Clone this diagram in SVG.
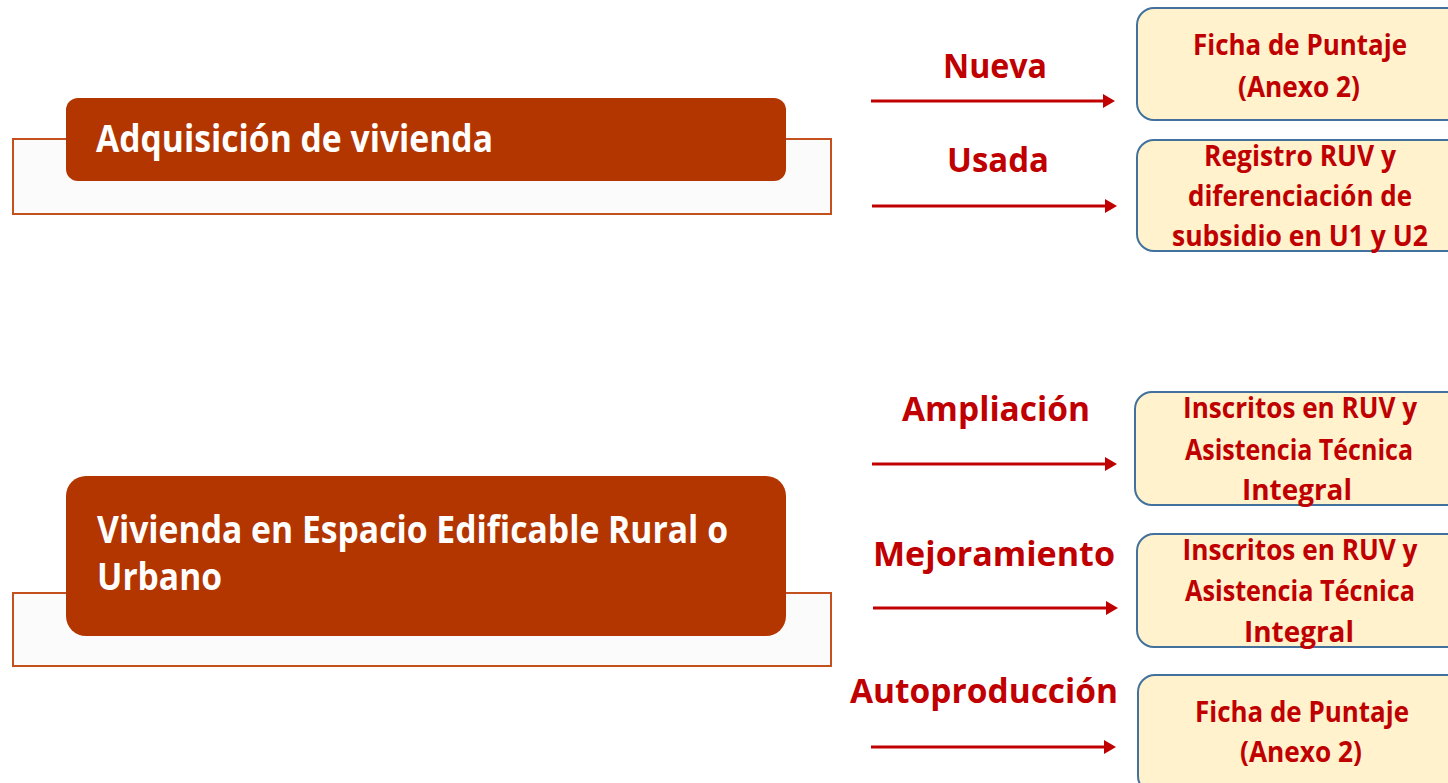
<svg xmlns="http://www.w3.org/2000/svg" width="1448" height="783" viewBox="0 0 1448 783">
  <style>
    .outer { fill: #FBFBFB; stroke: #C4501E; stroke-width: 2; }
    .main { fill: #B33500; }
    .mainText { font-family: "Open Sans", "Noto Sans", sans-serif; font-weight: bold; font-size: 38px; fill: #FFFFFF; }
    .lbl { font-family: "Open Sans", "Noto Sans", sans-serif; font-weight: bold; font-size: 34px; fill: #C00000; text-anchor: middle; }
    .box { fill: #FFF2CC; stroke: #41719C; stroke-width: 2; }
    .boxText { font-family: "Open Sans", "Noto Sans", sans-serif; font-weight: bold; font-size: 29px; fill: #C00000; text-anchor: middle; }
    .conn { stroke: #C00000; stroke-width: 3; fill: none; }
  </style>
  <defs>
    <marker id="arrow" viewBox="0 0 12 14" refX="0" refY="7" markerWidth="12" markerHeight="14" markerUnits="userSpaceOnUse" orient="auto">
      <path d="M0,0 L12,7 L0,14 z" fill="#C00000"/>
    </marker>
  </defs>
  <rect width="1448" height="783" fill="#FFFFFF"/>

  <g id="node-adquisicion">
    <rect class="outer" x="13" y="139" width="818" height="75"/>
    <rect class="main" x="66" y="98" width="720" height="83" rx="12"/>
    <text class="mainText" x="96" y="152" textLength="397" lengthAdjust="spacingAndGlyphs">Adquisición de vivienda</text>
  </g>

  <g id="node-vivienda-espacio">
    <rect class="outer" x="13" y="593" width="818" height="73"/>
    <rect class="main" x="66" y="476" width="720" height="160" rx="20"/>
    <text class="mainText" x="97" y="543" textLength="631" lengthAdjust="spacingAndGlyphs">Vivienda en Espacio Edificable Rural o</text>
    <text class="mainText" x="97" y="590" textLength="125" lengthAdjust="spacingAndGlyphs">Urbano</text>
  </g>

  <g id="connectors">
    <line class="conn" x1="871" y1="101" x2="1103" y2="101" marker-end="url(#arrow)"/>
    <line class="conn" x1="872" y1="206" x2="1105" y2="206" marker-end="url(#arrow)"/>
    <line class="conn" x1="872" y1="464" x2="1105" y2="464" marker-end="url(#arrow)"/>
    <line class="conn" x1="873" y1="608" x2="1106" y2="608" marker-end="url(#arrow)"/>
    <line class="conn" x1="871" y1="747" x2="1104" y2="747" marker-end="url(#arrow)"/>
  </g>

  <g id="labels">
    <text class="lbl" x="995" y="78" textLength="104" lengthAdjust="spacingAndGlyphs">Nueva</text>
    <text class="lbl" x="998" y="172" textLength="102" lengthAdjust="spacingAndGlyphs">Usada</text>
    <text class="lbl" x="996" y="421" textLength="188" lengthAdjust="spacingAndGlyphs">Ampliación</text>
    <text class="lbl" x="994" y="566" textLength="242" lengthAdjust="spacingAndGlyphs">Mejoramiento</text>
    <text class="lbl" x="984" y="703" textLength="268" lengthAdjust="spacingAndGlyphs">Autoproducción</text>
  </g>

  <g id="box-ficha-1">
    <rect class="box" x="1137" y="8" width="330" height="112" rx="17"/>
    <text class="boxText" x="1300" y="55" textLength="214" lengthAdjust="spacingAndGlyphs">Ficha de Puntaje</text>
    <text class="boxText" x="1299" y="97" textLength="122" lengthAdjust="spacingAndGlyphs">(Anexo 2)</text>
  </g>

  <g id="box-registro">
    <rect class="box" x="1137" y="140" width="330" height="111" rx="17"/>
    <text class="boxText" x="1300" y="166" textLength="192" lengthAdjust="spacingAndGlyphs">Registro RUV y</text>
    <text class="boxText" x="1300" y="206" textLength="224" lengthAdjust="spacingAndGlyphs">diferenciación de</text>
    <text class="boxText" x="1300" y="246" textLength="256" lengthAdjust="spacingAndGlyphs">subsidio en U1 y U2</text>
  </g>

  <g id="box-inscritos-1">
    <rect class="box" x="1135" y="392" width="330" height="113" rx="17"/>
    <text class="boxText" x="1300" y="418" textLength="234" lengthAdjust="spacingAndGlyphs">Inscritos en RUV y</text>
    <text class="boxText" x="1299" y="460" textLength="228" lengthAdjust="spacingAndGlyphs">Asistencia Técnica</text>
    <text class="boxText" x="1297" y="500" textLength="110" lengthAdjust="spacingAndGlyphs">Integral</text>
  </g>

  <g id="box-inscritos-2">
    <rect class="box" x="1137" y="534" width="330" height="113" rx="17"/>
    <text class="boxText" x="1300" y="560" textLength="235" lengthAdjust="spacingAndGlyphs">Inscritos en RUV y</text>
    <text class="boxText" x="1300" y="601" textLength="230" lengthAdjust="spacingAndGlyphs">Asistencia Técnica</text>
    <text class="boxText" x="1299" y="642" textLength="110" lengthAdjust="spacingAndGlyphs">Integral</text>
  </g>

  <g id="box-ficha-2">
    <rect class="box" x="1138" y="675" width="330" height="118" rx="17"/>
    <text class="boxText" x="1302" y="722" textLength="214" lengthAdjust="spacingAndGlyphs">Ficha de Puntaje</text>
    <text class="boxText" x="1301" y="762" textLength="122" lengthAdjust="spacingAndGlyphs">(Anexo 2)</text>
  </g>
</svg>
